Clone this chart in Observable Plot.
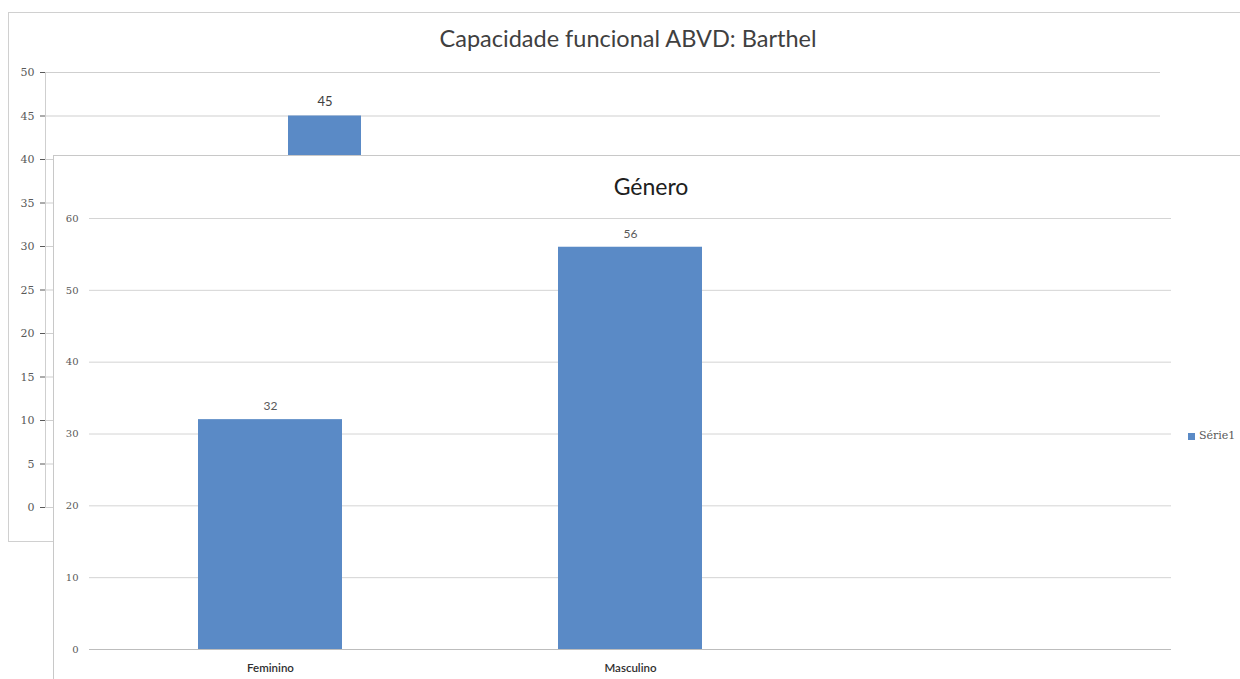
<!DOCTYPE html>
<html>
<head>
<meta charset="utf-8">
<script src="https://cdn.jsdelivr.net/npm/d3@7"></script>
<script src="https://cdn.jsdelivr.net/npm/@observablehq/plot@0.6"></script>
<style>
  html, body { margin: 0; padding: 0; background: #fff; }
  #stage { position: relative; width: 1240px; height: 679px; overflow: hidden; font-family: Lato, "Open Sans", sans-serif; }
  #barthel { position: absolute; left: 8px; top: 12px; width: 1232px; height: 528px; border-left: 1px solid #d0d0d0; border-top: 1px solid #d0d0d0; border-bottom: 1px solid #d0d0d0; }
  #barthelPlot { position: absolute; left: 0; top: 0; }
  #genero { position: absolute; left: 53px; top: 155px; width: 1187px; height: 524px; background: #fff; border-left: 1px solid #c8c8c8; border-top: 1px solid #c8c8c8; }
  #generoPlot { position: absolute; left: 0; top: 0; }
  .title { position: absolute; color: #404040; white-space: nowrap; transform: translateX(-50%); line-height: 1.2; }
  .legend { position: absolute; font-family: "DejaVu Serif", serif; font-size: 11px; color: #595959; white-space: nowrap; }
  .legend span.sw { display: inline-block; width: 7px; height: 7px; background: #5a8ac6; margin-right: 4px; vertical-align: middle; }
</style>
</head>
<body>
<div id="stage">
  <div id="barthelPlot"></div>
  <div id="barthel"></div>
  <div class="title" style="left:628px; top:24px; font-size:23.5px;">Capacidade funcional ABVD: Barthel</div>
  <div id="genero">
    <div id="generoPlot"></div>
    <div class="title" style="left:597px; top:17px; font-size:23px; color:#202020;">Género</div>
    <div class="legend" style="left:1134px; top:273px;"><span class="sw"></span>Série1</div>
  </div>
</div>
<script>
// ---- Data ----
const barthelCategorias = ["Categoria 1", "Categoria 2"];
const barthelValores = [45];
const barthelTicks = [0, 5, 10, 15, 20, 25, 30, 35, 40, 45, 50];

const generoCategorias = ["Feminino", "Masculino", ""];
const generoValores = [32, 56];
const generoTicks = [0, 10, 20, 30, 40, 50, 60];

const cor = "#5a8ac6";

// ---- Barthel (background chart) ----
const barthelData = barthelValores.map((v, i) => ({cat: barthelCategorias[i], v}));
const p1 = Plot.plot({
  width: 1240,
  height: 545,
  marginLeft: 45,
  marginRight: 80,
  marginTop: 72,
  marginBottom: 38,
  style: {fontFamily: "'DejaVu Serif', serif", fontSize: "11px", color: "#595959", background: "transparent"},
  x: {domain: barthelCategorias, padding: 0, axis: null},
  y: {domain: [0, 50], ticks: barthelTicks, tickSize: 5, tickPadding: 6, label: null},
  marks: [
    Plot.gridY(barthelTicks, {stroke: "#cfcfcf", strokeOpacity: 1}),
    Plot.barY(barthelData, {x: "cat", y: "v", fill: cor, insetLeft: 242, insetRight: 242}),
    Plot.text(barthelData, {x: "cat", y: "v", text: d => String(d.v), dy: -14, fill: "#404040", fontSize: 13, fontFamily: "Lato, sans-serif"}),
    Plot.frame({anchor: "left", stroke: "#cfcfcf"})
  ]
});
document.getElementById("barthelPlot").append(p1);

// ---- Género (overlay chart) ----
const generoData = generoValores.map((v, i) => ({cat: generoCategorias[i], v}));
const p2 = Plot.plot({
  width: 1187,
  height: 524,
  marginLeft: 35,
  marginRight: 70,
  marginTop: 62,
  marginBottom: 31,
  style: {fontFamily: "'DejaVu Serif', serif", fontSize: "10px", color: "#595959", background: "transparent"},
  x: {domain: generoCategorias, padding: 0, label: null, tickSize: 0, tickPadding: 14},
  y: {domain: [0, 60], ticks: generoTicks, tickSize: 0, tickPadding: 11, label: null},
  marks: [
    Plot.gridY(generoTicks, {stroke: "#d4d4d4", strokeOpacity: 1}),
    Plot.barY(generoData, {x: "cat", y: "v", fill: cor, insetLeft: 108, insetRight: 108}),
    Plot.text(generoData, {x: "cat", y: "v", text: d => String(d.v), dy: -13, fill: "#595959", fontSize: 12, fontFamily: "Lato, sans-serif"}),
    Plot.ruleY([0], {stroke: "#bdbdbd"})
  ]
});
p2.querySelectorAll("[aria-label='x-axis tick label'] text").forEach(t => { t.setAttribute("font-family", "Lato, sans-serif"); t.setAttribute("font-size", "11.5"); t.setAttribute("font-weight", "600"); t.setAttribute("fill", "#303030"); });
document.getElementById("generoPlot").append(p2);
</script>
</body>
</html>
